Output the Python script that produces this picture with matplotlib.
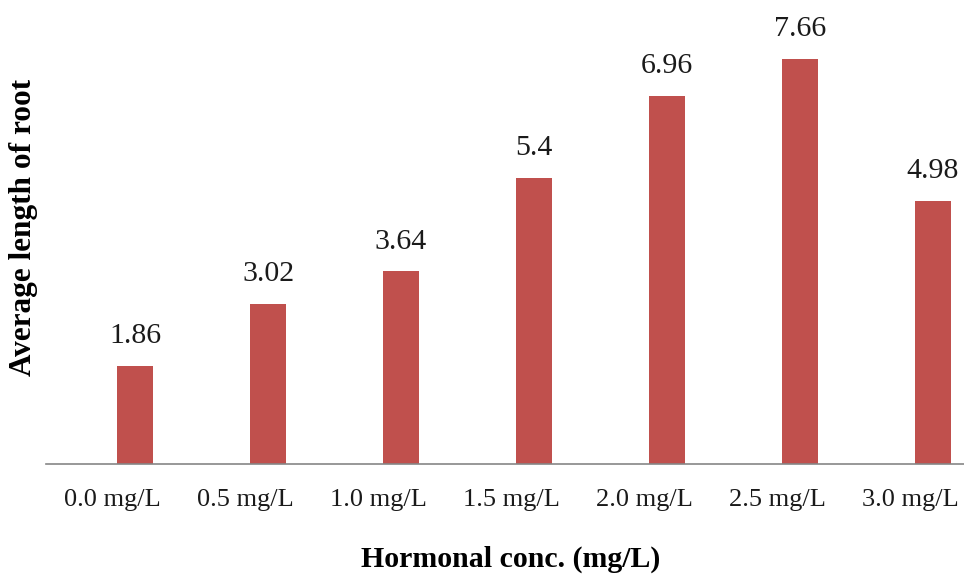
import matplotlib
matplotlib.use('Agg')
import matplotlib.pyplot as plt

# root length per hormone concentration
conc_labels = ['0.0 mg/L', '0.5 mg/L', '1.0 mg/L', '1.5 mg/L', '2.0 mg/L', '2.5 mg/L', '3.0 mg/L']
root_length = [1.86, 3.02, 3.64, 5.4, 6.96, 7.66, 4.98]
value_text = ['1.86', '3.02', '3.64', '5.4', '6.96', '7.66', '4.98']

plt.rcParams['font.family'] = 'Liberation Serif'

W, H = 964, 576
fig = plt.figure(figsize=(W / 100, H / 100), dpi=100)
# axes placed in pixel terms: baseline at y=464, 7 slots of 133 px from x=45.5
# (the last slot runs a little past the right edge)
ax = fig.add_axes([45.5 / W, (H - 464) / H, 931 / W, 424 / H])

x = list(range(len(root_length)))
shift = 0.173  # bars sit right of the slot centre
bar_x = [i + shift for i in x]
ax.bar(bar_x, root_length, width=0.267, color='#C0504D', zorder=2)
for bx, v, t in zip(bar_x, root_length, value_text):
    ax.text(bx, v + 0.32, t, ha='center', va='bottom', fontsize=21.5,
            color='#1a1a1a', clip_on=False)

ax.set_xlim(-0.5, 6.5)
ax.set_ylim(0, 424 / 52.9)

for s in ['top', 'right', 'left']:
    ax.spines[s].set_visible(False)
ax.spines['bottom'].set_color('#868686')
ax.spines['bottom'].set_linewidth(1.2)
ax.set_yticks([])
ax.set_xticks(x)
ax.set_xticklabels(conc_labels, fontsize=19, color='#1a1a1a')
ax.tick_params(axis='x', length=0, pad=18)

fig.text(511 / W, 1 - 559 / H, 'Hormonal conc. (mg/L)', ha='center', va='center',
         fontsize=21.5, fontweight='bold')
fig.text(24 / W, 1 - 227 / H, 'Average length of root', ha='center', va='center',
         rotation=90, fontsize=22.5, fontweight='bold')

fig.savefig('out.png', dpi=100)
